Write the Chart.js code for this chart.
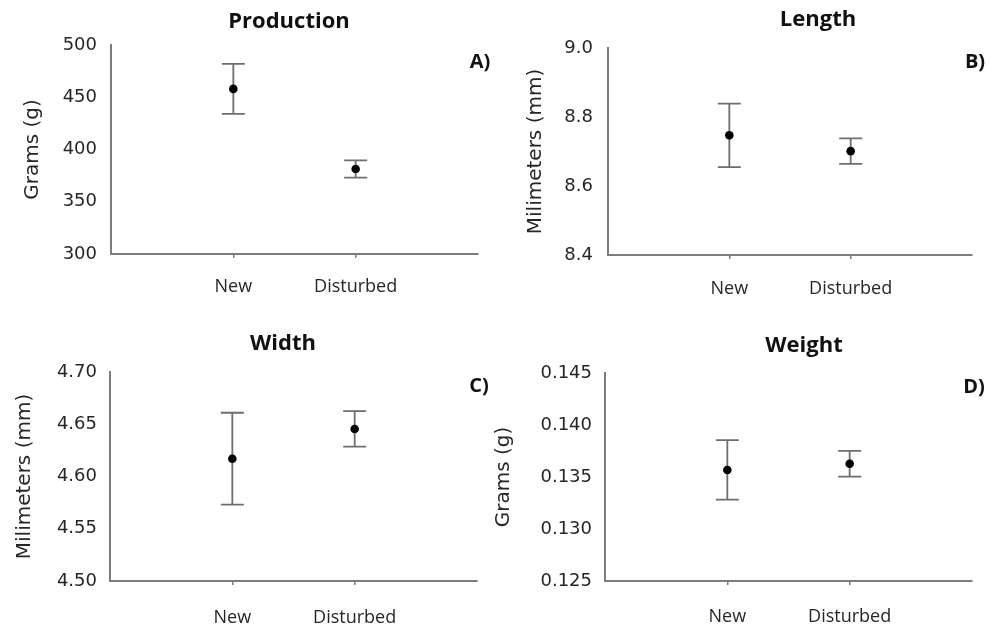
<!DOCTYPE html>
<html>
<head>
<meta charset="utf-8">
<script src="https://cdn.jsdelivr.net/npm/chart.js@4.4.1/dist/chart.umd.min.js"></script>
<style>
  html, body { margin: 0; padding: 0; background: #fff; }
  #wrap { position: relative; width: 995px; height: 629px; overflow: hidden; }
  .panel { position: absolute; }
</style>
</head>
<body>
<div id="wrap">
  <div class="panel" style="left:0;top:0;width:495px;height:310px"><canvas id="chart-a"></canvas></div>
  <div class="panel" style="left:495px;top:0;width:500px;height:310px"><canvas id="chart-b"></canvas></div>
  <div class="panel" style="left:0;top:310px;width:495px;height:319px"><canvas id="chart-c"></canvas></div>
  <div class="panel" style="left:480px;top:310px;width:515px;height:319px"><canvas id="chart-d"></canvas></div>
</div>
<script>
const categories = ['New', 'Disturbed'];

const productionMeans = [458, 381.3];
const productionErrors = [24, 8.2];
const productionTicks = ['300', '350', '400', '450', '500'];

const lengthMeans = [8.747, 8.701];
const lengthErrors = [0.092, 0.037];
const lengthTicks = ['8.4', '8.6', '8.8', '9.0'];

const widthMeans = [4.617, 4.6455];
const widthErrors = [0.044, 0.017];
const widthTicks = ['4.50', '4.55', '4.60', '4.65', '4.70'];

const weightMeans = [0.13568, 0.13627];
const weightErrors = [0.00286, 0.00124];
const weightTicks = ['0.125', '0.130', '0.135', '0.140', '0.145'];

const axisColor = '#7d7d7d';
const textColor = '#262626';

const errorBarPlugin = {
  id: 'errorBars',
  beforeDatasetsDraw(chart) {
    const { ctx } = chart;
    const xScale = chart.scales.x;
    const yScale = chart.scales.y;
    const dataset = chart.data.datasets[0];
    ctx.save();
    ctx.strokeStyle = '#6e6e6e';
    ctx.lineWidth = 1.8;
    dataset.data.forEach((point, i) => {
      const err = dataset.errors[i];
      const px = xScale.getPixelForValue(point.x);
      const top = yScale.getPixelForValue(point.y + err);
      const bottom = yScale.getPixelForValue(point.y - err);
      ctx.beginPath();
      ctx.moveTo(px, top);
      ctx.lineTo(px, bottom);
      ctx.moveTo(px - 11.5, top);
      ctx.lineTo(px + 11.5, top);
      ctx.moveTo(px - 11.5, bottom);
      ctx.lineTo(px + 11.5, bottom);
      ctx.stroke();
    });
    ctx.restore();
  },
};

const panelTextPlugin = {
  id: 'panelText',
  afterDraw(chart, args, opts) {
    const { ctx } = chart;
    ctx.save();
    ctx.fillStyle = '#111';
    ctx.textBaseline = 'middle';
    ctx.textAlign = 'center';
    ctx.font = 'bold 22px "Open Sans"';
    ctx.fillText(opts.title, opts.titleX, opts.titleY);
    ctx.font = 'bold 20px "Open Sans"';
    ctx.fillText(opts.letter, opts.letterX, opts.letterY);
    ctx.restore();
  },
};

function buildPanel(canvasId, panel) {
  const tickValues = panel.ticks.map((t) => parseFloat(t));
  const decimals = panel.ticks[0].includes('.') ? panel.ticks[0].split('.')[1].length : 0;

  return new Chart(document.getElementById(canvasId), {
    type: 'scatter',
    data: {
      datasets: [
        {
          data: panel.means.map((m, i) => ({ x: i + 1, y: m })),
          errors: panel.errors,
          pointRadius: 4.3,
          pointHoverRadius: 4.3,
          pointBackgroundColor: '#000',
          pointBorderWidth: 0,
        },
      ],
    },
    options: {
      responsive: true,
      maintainAspectRatio: false,
      animation: false,
      layout: {
        padding: { top: panel.top, left: 0, right: panel.width - panel.right, bottom: 0 },
      },
      plugins: {
        legend: { display: false },
        tooltip: { enabled: false },
        panelText: {
          title: panel.title,
          titleX: panel.titleX,
          titleY: panel.titleY,
          letter: panel.letter,
          letterX: panel.letterX,
          letterY: panel.letterY,
        },
      },
      scales: {
        x: {
          type: 'linear',
          min: 0,
          max: 3,
          afterBuildTicks: (scale) => {
            scale.ticks = categories.map((c, i) => ({ value: i + 1 }));
          },
          afterFit: (scale) => {
            scale.height = panel.height - panel.bottom;
          },
          ticks: {
            autoSkip: false,
            maxRotation: 0,
            padding: panel.xPad,
            color: textColor,
            font: { family: '"Open Sans"', size: 18 },
            callback: (value) => categories[value - 1],
          },
          grid: {
            drawOnChartArea: false,
            drawTicks: true,
            tickLength: 4,
            color: axisColor,
            lineWidth: 1.5,
          },
          border: { color: axisColor, width: 2 },
        },
        y: {
          min: tickValues[0],
          max: tickValues[tickValues.length - 1],
          afterBuildTicks: (scale) => {
            scale.ticks = tickValues.map((v) => ({ value: v }));
          },
          afterFit: (scale) => {
            scale.width = panel.left;
          },
          ticks: {
            padding: panel.yPad,
            color: textColor,
            font: { family: '"DejaVu Sans"', size: 18 },
            callback: (value) => Number(value).toFixed(decimals),
          },
          grid: { drawOnChartArea: false, drawTicks: false },
          border: { color: axisColor, width: 2 },
          title: {
            display: true,
            text: panel.yTitle,
            color: textColor,
            font: { family: '"DejaVu Sans"', size: 20 },
            padding: { top: panel.yTitleCenter - 12, bottom: 0 },
          },
        },
      },
    },
    plugins: [errorBarPlugin, panelTextPlugin],
  });
}

buildPanel('chart-a', {
  means: productionMeans, errors: productionErrors, ticks: productionTicks,
  title: 'Production', letter: 'A)', yTitle: 'Grams (g)',
  width: 495, height: 310, left: 111, top: 45, right: 478, bottom: 254,
  titleX: 289, titleY: 22, letterX: 480, letterY: 62,
  yTitleCenter: 33, yPad: 14, xPad: 17.7,
});

buildPanel('chart-b', {
  means: lengthMeans, errors: lengthErrors, ticks: lengthTicks,
  title: 'Length', letter: 'B)', yTitle: 'Milimeters (mm)',
  width: 500, height: 310, left: 113, top: 48, right: 477, bottom: 255,
  titleX: 323, titleY: 20, letterX: 480, letterY: 62,
  yTitleCenter: 41, yPad: 15, xPad: 19.2,
});

buildPanel('chart-c', {
  means: widthMeans, errors: widthErrors, ticks: widthTicks,
  title: 'Width', letter: 'C)', yTitle: 'Milimeters (mm)',
  width: 495, height: 319, left: 110, top: 62, right: 477, bottom: 271,
  titleX: 283, titleY: 34, letterX: 479, letterY: 76,
  yTitleCenter: 25, yPad: 13, xPad: 22.2,
});

buildPanel('chart-d', {
  means: weightMeans, errors: weightErrors, ticks: weightTicks,
  title: 'Weight', letter: 'D)', yTitle: 'Grams (g)',
  width: 515, height: 319, left: 125, top: 63, right: 492, bottom: 271,
  titleX: 324, titleY: 36, letterX: 494, letterY: 77,
  yTitleCenter: 24, yPad: 13, xPad: 20.7,
});
</script>
</body>
</html>
